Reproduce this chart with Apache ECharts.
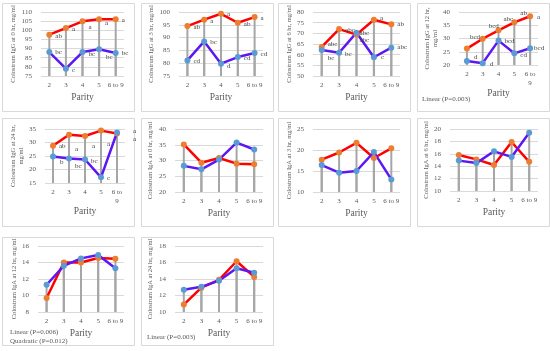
<!DOCTYPE html>
<html><head><meta charset="utf-8">
<script src="https://cdn.jsdelivr.net/npm/echarts@6/dist/echarts.min.js"></script>
<style>html,body{margin:0;padding:0;background:#fff}#c{width:550px;height:351px}</style>
</head><body><div id="c"></div>
<script>
// ---------- DATA ----------
const categories = ['2', '3', '4', '5', '6 to 9'];

const iggHr0Red  = [97.6, 101.2, 104.9, 106.0, 106.0];
const iggHr0Blue = [88.1, 79.0, 88.1, 89.6, 87.6];
const iggHr0RedLbl  = ['ab', 'a', 'a', 'a', 'a'];
const iggHr0BlueLbl = ['bc', 'c', 'bc', 'bc', 'bc'];

const iggHr3Red  = [94.5, 97.0, 99.3, 95.8, 98.0];
const iggHr3Blue = [81.1, 88.5, 79.8, 82.4, 84.0];
const iggHr3RedLbl  = ['ab', 'a', 'a', 'ab', 'a'];
const iggHr3BlueLbl = ['cd', 'bc', 'd', 'cd', 'cd'];

const iggHr6Red  = [63.6, 72.0, 69.4, 76.4, 74.2];
const iggHr6Blue = [62.2, 60.9, 70.3, 58.8, 63.3];
const iggHr6RedLbl  = ['abc', 'abc', 'abc', 'a', 'ab'];
const iggHr6BlueLbl = ['bc', 'bc', 'abc', 'c', 'abc'];

const iggHr12Red  = [26.2, 29.9, 33.1, 36.1, 38.4];
const iggHr12Blue = [21.5, 20.7, 29.2, 24.4, 26.3];
const iggHr12RedLbl  = ['bcd', 'bcd', 'abc', 'ab', 'a'];
const iggHr12BlueLbl = ['d', 'd', 'bcd', 'cd', 'bcd'];

const iggHr24Red  = [28.8, 32.9, 32.4, 34.4, 33.3];
const iggHr24Blue = [24.8, 24.1, 23.7, 17.1, 33.7];
const iggHr24RedLbl  = ['ab', 'a', 'a', 'a', 'a'];
const iggHr24BlueLbl = ['b', 'bc', 'bc', 'c', 'a'];

const igaHr0Red  = [35.1, 29.3, 30.8, 29.0, 28.8];
const igaHr0Blue = [28.3, 27.2, 30.3, 35.7, 33.5];

const igaHr3Red  = [17.7, 19.4, 21.7, 18.1, 20.4];
const igaHr3Blue = [16.4, 14.6, 15.0, 19.5, 13.0];

const igaHr6Red  = [15.8, 15.1, 14.2, 17.9, 14.7];
const igaHr6Blue = [14.9, 14.5, 16.4, 15.5, 19.4];

const igaHr12Red  = [9.7, 14.0, 14.0, 14.55, 14.45];
const igaHr12Blue = [11.3, 13.6, 14.5, 14.9, 13.3];

const igaHr24Red  = [10.9, 12.95, 13.9, 16.15, 14.25];
const igaHr24Blue = [12.7, 13.05, 13.8, 15.3, 14.75];

const yTitles = [
  'Colostrum IgG at 0 hr, mg/ml',
  'Colostrum IgG at 3 hr, mg/ml',
  'Colostrum IgG at 6 hr, mg/ml',
  'Colostrum IgG at 12 hr,\nmg/ml',
  'Colostrum IgG at 24 hr,\nmg/ml',
  'Colostrum IgA at 0 hr, mg/ml',
  'Colostrum IgA at 3 hr, mg/ml',
  'Colostrum IgA at 6 hr, mg/ml',
  'Colostrum IgA at 12 hr, mg/ml',
  'Colostrum IgA at 24 hr, mg/ml'
];
const xTitle = 'Parity';
const notes = ['Linear (P=0.003)', 'Linear (P=0.006)', 'Quadratic (P=0.012)', 'Linear (P=0.003)'];

// ---------- LAYOUT / STYLE ----------
const FONT = '"Liberation Serif", "DejaVu Serif", serif';
const TXT = '#595959';
const RED = '#ff0000', BLUE = '#5c17f2', RED_PT = '#ed7d31', BLUE_PT = '#5b9bd5';

const panels = [
  {box:[2,3], grid:[41,12,83,64], y:[75,110,5], red:iggHr0Red, blue:iggHr0Blue, rl:iggHr0RedLbl, bl:iggHr0BlueLbl,
   ro:[[0,1],[0,1],[0,6],[0,4],[0,1]], bo:[[0,0],[0,1],[0,2],[1,8],[0,0]], gap:19},
  {box:[141,3], grid:[179,12,84,64], y:[75,100,5], red:iggHr3Red, blue:iggHr3Blue, rl:iggHr3RedLbl, bl:iggHr3BlueLbl,
   ro:[[0,1],[0,1],[0,0],[0,1],[0,1]], bo:[[0,1],[0,1],[0,2],[0,1],[0,1]], gap:21},
  {box:[278,3], grid:[313,12,87,64], y:[50,80,5], red:iggHr6Red, blue:iggHr6Blue, rl:iggHr6RedLbl, bl:iggHr6BlueLbl,
   ro:[[0,-3],[0,1],[-3,-1],[0,-2],[0,0]], bo:[[0,8],[0,1],[-3,7],[1,0],[0,0]], gap:20},
  {box:[417,3], grid:[459,12,79,53], y:[20,40,5], red:iggHr12Red, blue:iggHr12Blue, rl:iggHr12RedLbl, bl:iggHr12BlueLbl,
   ro:[[-3,-11],[0,-13],[-1,-11],[0,-9],[1,1]], bo:[[1,-4],[1,1],[0,1],[0,2],[-2,0]], gap:16, wrap:true},
  {box:[2,118], grid:[45,129,80,54], y:[15,35,5], red:iggHr24Red, blue:iggHr24Blue, rl:iggHr24RedLbl, bl:iggHr24BlueLbl,
   ro:[[0,0],[0,14],[1,10],[0,14],[10,6]], bo:[[1,6],[0,8],[0,2],[0,1],[10,-1]], gap:18, wrap:true},
  {box:[141,118], grid:[175,129,88,63], y:[20,40,5], red:igaHr0Red, blue:igaHr0Blue, gap:21},
  {box:[278,118], grid:[313,129,87,63], y:[10,25,5], red:igaHr3Red, blue:igaHr3Blue, gap:20},
  {box:[417,118], grid:[450,129,88,62], y:[10,20,2], red:igaHr6Red, blue:igaHr6Blue, gap:20},
  {box:[2,237], grid:[38,246,86,66], y:[8,16,2], red:igaHr12Red, blue:igaHr12Blue, gap:20},
  {box:[141,237], grid:[175,246,88,66], y:[10,18,2], red:igaHr24Red, blue:igaHr24Blue, gap:21}
];

const grids = [], xAxes = [], yAxes = [], series = [], graphics = [];
panels.forEach((p, i) => {
  graphics.push({type:'rect', shape:{x:p.box[0]+0.5, y:p.box[1]+0.5, width:132, height:108},
    style:{fill:'none', stroke:'#d9d9d9', lineWidth:1}, z:-1});
  grids.push({left:p.grid[0], top:p.grid[1], width:p.grid[2], height:p.grid[3]});
  xAxes.push({type:'category', gridIndex:i, data:categories, boundaryGap:true,
    axisLine:{show:false}, axisTick:{show:false},
    axisLabel:{color:TXT, fontFamily:FONT, fontSize:7, margin:5, lineHeight:9, interval:0,
      formatter: v => (p.wrap && v === '6 to 9') ? '6 to\n9' : v},
    name:xTitle, nameLocation:'middle', nameGap: p.wrap ? 23 : 16,
    nameTextStyle:{color:TXT, fontFamily:FONT, fontSize:9.5}});
  yAxes.push({type:'value', gridIndex:i, min:p.y[0], max:p.y[1], interval:p.y[2],
    axisLine:{show:false}, axisTick:{show:false},
    splitLine:{lineStyle:{color:'#d9d9d9', width:1}},
    axisLabel:{color:TXT, fontFamily:FONT, fontSize:7, margin:9},
    name:yTitles[i], nameLocation:'middle', nameRotate:90, nameGap:p.gap,
    nameTextStyle:{color:TXT, fontFamily:FONT, fontSize:6.5, lineHeight:8}});
  // drop lines (bars from axis to each value)
  [p.red, p.blue].forEach(arr => {
    series.push({type:'bar', xAxisIndex:i, yAxisIndex:i, data:arr, barWidth:2, barGap:'-100%',
      itemStyle:{color:'#a6a6a6'}, silent:true, z:1, animation:false});
  });
  const mk = (arr, lbls, offs, lineColor, ptColor) => ({
    type:'line', xAxisIndex:i, yAxisIndex:i, z:3, animation:false,
    data: arr.map((v, k) => lbls ? {value:v, label:{show:true, formatter:lbls[k], offset:offs[k]}} : v),
    symbol:'circle', symbolSize:6, showSymbol:true,
    lineStyle:{color:lineColor, width:2.5}, itemStyle:{color:ptColor},
    label:{show:!!lbls, position:'right', distance:3, color:'#404040', fontFamily:FONT, fontSize:7}
  });
  series.push(mk(p.red, p.rl, p.ro, RED, RED_PT));
  series.push(mk(p.blue, p.bl, p.bo, BLUE, BLUE_PT));
});

const noteStyle = {fill:TXT, font:'7px ' + FONT};
graphics.push({type:'text', left:422, top:96, style:Object.assign({text:notes[0]}, noteStyle)});
graphics.push({type:'text', left:10, top:329, style:Object.assign({text:notes[1]}, noteStyle)});
graphics.push({type:'text', left:10, top:338, style:Object.assign({text:notes[2]}, noteStyle)});
graphics.push({type:'text', left:147, top:334, style:Object.assign({text:notes[3]}, noteStyle)});

const chart = echarts.init(document.getElementById('c'), null, {renderer:'canvas'});
chart.setOption({animation:false, grid:grids, xAxis:xAxes, yAxis:yAxes, series:series, graphic:graphics});
</script></body></html>
